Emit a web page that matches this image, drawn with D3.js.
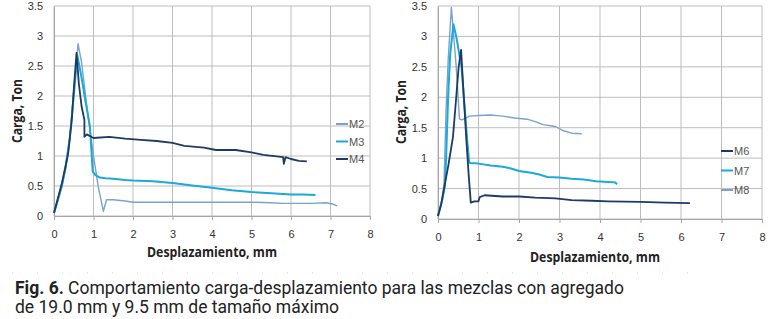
<!DOCTYPE html>
<html>
<head>
<meta charset="utf-8">
<script src="https://cdn.jsdelivr.net/npm/d3@7"></script>
<style>
  body { margin: 0; background: #fff; }
  svg { display: block; }
  .tick text { font-family: "Liberation Sans", Arial, sans-serif; font-size: 11px; fill: #333; }
</style>
</head>
<body>
<svg id="chart" width="771" height="319"></svg>
<script>
// Left chart: M2, M3, M4 (19.0 mm)
const m2x = [0, 0.1, 0.2, 0.3, 0.4, 0.5, 0.61, 0.7, 0.8, 0.91, 1.0, 1.12, 1.25, 1.33, 1.5, 1.8, 2.0, 2.5, 3.0, 3.5, 4.0, 4.5, 5.0, 5.5, 5.8, 6.2, 6.5, 6.9, 7.05, 7.17];
const m2y = [0.05, 0.25, 0.5, 0.8, 1.3, 2.1, 2.87, 2.55, 2.0, 1.43, 1.0, 0.49, 0.08, 0.27, 0.27, 0.25, 0.23, 0.23, 0.23, 0.23, 0.23, 0.23, 0.23, 0.22, 0.21, 0.21, 0.21, 0.22, 0.2, 0.17];
const m3x = [0, 0.1, 0.2, 0.3, 0.4, 0.5, 0.59, 0.7, 0.8, 0.91, 0.98, 1.05, 1.16, 1.3, 1.5, 1.8, 2.0, 2.5, 3.0, 3.5, 4.0, 4.5, 5.0, 5.5, 6.0, 6.3, 6.62];
const m3y = [0.05, 0.28, 0.5, 0.85, 1.3, 2.0, 2.68, 2.3, 1.9, 1.49, 0.74, 0.68, 0.64, 0.63, 0.62, 0.6, 0.59, 0.58, 0.55, 0.51, 0.47, 0.43, 0.4, 0.38, 0.36, 0.36, 0.35];
const m4x = [0, 0.1, 0.2, 0.3, 0.36, 0.45, 0.5, 0.57, 0.63, 0.7, 0.77, 0.77, 0.83, 1.0, 1.4, 1.8, 2.2, 2.6, 3.0, 3.3, 3.8, 4.1, 4.6, 5.0, 5.3, 5.8, 5.82, 5.86, 6.0, 6.2, 6.4];
const m4y = [0.05, 0.3, 0.55, 0.85, 1.05, 1.6, 2.1, 2.72, 2.2, 1.82, 1.6, 1.32, 1.36, 1.3, 1.32, 1.29, 1.27, 1.25, 1.22, 1.17, 1.14, 1.1, 1.1, 1.06, 1.02, 0.98, 0.87, 0.98, 0.95, 0.92, 0.91];

// Right chart: M6, M7, M8 (9.5 mm)
const m6x = [0, 0.08, 0.15, 0.26, 0.37, 0.45, 0.51, 0.57, 0.62, 0.7, 0.76, 0.81, 0.9, 1.0, 1.03, 1.15, 1.6, 2.0, 2.4, 2.9, 3.3, 3.8, 4.2, 5.0, 5.6, 6.22];
const m6y = [0.05, 0.25, 0.5, 0.9, 1.35, 2.0, 2.5, 2.78, 2.2, 1.3, 0.7, 0.27, 0.29, 0.29, 0.36, 0.39, 0.37, 0.37, 0.35, 0.34, 0.31, 0.3, 0.29, 0.28, 0.27, 0.26];
const m7x = [0, 0.1, 0.17, 0.2, 0.25, 0.3, 0.38, 0.45, 0.58, 0.72, 0.77, 0.8, 1.0, 1.3, 1.6, 1.8, 2.0, 2.3, 2.5, 2.7, 3.0, 3.3, 3.6, 3.9, 4.2, 4.38, 4.42];
const m7y = [0.05, 0.3, 0.55, 1.0, 2.0, 2.7, 3.2, 3.0, 2.5, 1.3, 0.93, 0.92, 0.91, 0.88, 0.86, 0.83, 0.79, 0.76, 0.73, 0.69, 0.68, 0.66, 0.65, 0.62, 0.61, 0.6, 0.57];
const m8x = [0, 0.1, 0.15, 0.2, 0.25, 0.33, 0.45, 0.53, 0.59, 0.78, 1.0, 1.3, 1.6, 1.9, 2.2, 2.4, 2.6, 2.9, 3.1, 3.3, 3.55];
const m8y = [0.05, 0.3, 0.6, 1.8, 2.6, 3.48, 2.5, 1.64, 1.63, 1.69, 1.7, 1.71, 1.69, 1.66, 1.64, 1.6, 1.55, 1.52, 1.45, 1.41, 1.4];

const xTicks = [0, 1, 2, 3, 4, 5, 6, 7, 8];
const yTicks = [0, 0.5, 1, 1.5, 2, 2.5, 3, 3.5];

const svg = d3.select("#chart");
const light = "#7ba2cf", cyan = "#1aa9da", navy = "#1f3a63";

function drawPanel(p) {
  const x = d3.scaleLinear().domain([0, 8]).range([p.left, p.right]);
  const y = d3.scaleLinear().domain([0, 3.5]).range([p.bottom, p.top]);
  const g = svg.append("g");

  // grid
  g.selectAll(".vg").data(xTicks).enter().append("line")
    .attr("x1", d => x(d)).attr("x2", d => x(d))
    .attr("y1", p.top).attr("y2", p.bottom)
    .attr("stroke", "#bdbdbd").attr("stroke-width", 1);
  g.selectAll(".hg").data(yTicks).enter().append("line")
    .attr("x1", p.left).attr("x2", p.right)
    .attr("y1", d => y(d)).attr("y2", d => y(d))
    .attr("stroke", "#bdbdbd").attr("stroke-width", 1);

  // axes
  const xa = g.append("g").attr("transform", `translate(0,${p.bottom})`)
    .call(d3.axisBottom(x).tickValues(xTicks).tickFormat(d3.format("d")).tickSize(4).tickPadding(10));
  const ya = g.append("g").attr("transform", `translate(${p.left},0)`)
    .call(d3.axisLeft(y).tickValues(yTicks).tickFormat(d => d).tickSize(0).tickPadding(11));
  [xa, ya].forEach(a => {
    a.select(".domain").attr("stroke", "#a6a6a6");
    a.selectAll(".tick line").attr("stroke", "#a6a6a6");
  });

  // series
  const line = d3.line().x(d => x(d[0])).y(d => y(d[1]));
  p.series.forEach(s => {
    g.append("path")
      .datum(s.xs.map((v, i) => [v, s.ys[i]]))
      .attr("d", line)
      .attr("fill", "none")
      .attr("stroke", s.color)
      .attr("stroke-width", s.w)
      .attr("stroke-linejoin", "round");
  });

  // legend
  p.legend.forEach((s, i) => {
    const ly = p.legY + i * p.legStep;
    g.append("line").attr("x1", p.legX).attr("x2", p.legX + 12)
      .attr("y1", ly).attr("y2", ly)
      .attr("stroke", s.color).attr("stroke-width", 2);
    g.append("text").attr("x", p.legX + 13).attr("y", ly + 4)
      .attr("font-family", "Liberation Sans, Arial, sans-serif")
      .attr("font-size", 11).attr("fill", "#555").text(s.name);
  });

  // titles
  g.append("text")
    .attr("x", (p.left + p.right) / 2 + p.titleShift).attr("y", p.xTitleY)
    .attr("text-anchor", "middle")
    .attr("font-family", "Open Sans, sans-serif").attr("font-weight", "bold")
    .attr("font-size", 15).attr("fill", "#222")
    .attr("textLength", 130).attr("lengthAdjust", "spacingAndGlyphs")
    .text("Desplazamiento, mm");
  g.append("text")
    .attr("transform", `translate(${p.yTitleX},${p.yTitleCY}) rotate(-90)`)
    .attr("text-anchor", "middle")
    .attr("font-family", "Open Sans, sans-serif").attr("font-weight", "bold")
    .attr("font-size", 15).attr("fill", "#222")
    .attr("textLength", 64).attr("lengthAdjust", "spacingAndGlyphs")
    .text("Carga, Ton");
}

drawPanel({
  left: 54, right: 370, top: 6, bottom: 216,
  series: [
    { xs: m2x, ys: m2y, color: light, w: 1.4 },
    { xs: m3x, ys: m3y, color: cyan, w: 2 },
    { xs: m4x, ys: m4y, color: navy, w: 1.8 }
  ],
  legend: [{ name: "M2", color: light }, { name: "M3", color: cyan }, { name: "M4", color: navy }],
  legX: 336, legY: 124, legStep: 17.5,
  xTitleY: 257, titleShift: 0, yTitleX: 22, yTitleCY: 111
});

drawPanel({
  left: 438, right: 762, top: 6, bottom: 219,
  series: [
    { xs: m8x, ys: m8y, color: light, w: 1.4 },
    { xs: m7x, ys: m7y, color: cyan, w: 2 },
    { xs: m6x, ys: m6y, color: navy, w: 1.8 }
  ],
  legend: [{ name: "M6", color: navy }, { name: "M7", color: cyan }, { name: "M8", color: light }],
  legX: 721, legY: 151, legStep: 19.5,
  xTitleY: 262, titleShift: -5, yTitleX: 406, yTitleCY: 112
});

// dotted separator
svg.append("line").attr("x1", 12).attr("x2", 700).attr("y1", 273).attr("y2", 273)
  .attr("stroke", "#ccc").attr("stroke-width", 1).attr("stroke-dasharray", "1,24");

// caption
const cap = svg.append("text")
  .attr("font-family", "Roboto, sans-serif").attr("font-size", 17.5).attr("fill", "#222");
cap.append("tspan").attr("x", 15).attr("y", 294).attr("font-weight", "bold").text("Fig. 6.");
cap.append("tspan").text(" Comportamiento carga-desplazamiento para las mezclas con agregado");
svg.append("text").attr("x", 15).attr("y", 313)
  .attr("font-family", "Roboto, sans-serif").attr("font-size", 17.5).attr("fill", "#222")
  .text("de 19.0 mm y 9.5 mm de tamaño máximo");
</script>
</body>
</html>
